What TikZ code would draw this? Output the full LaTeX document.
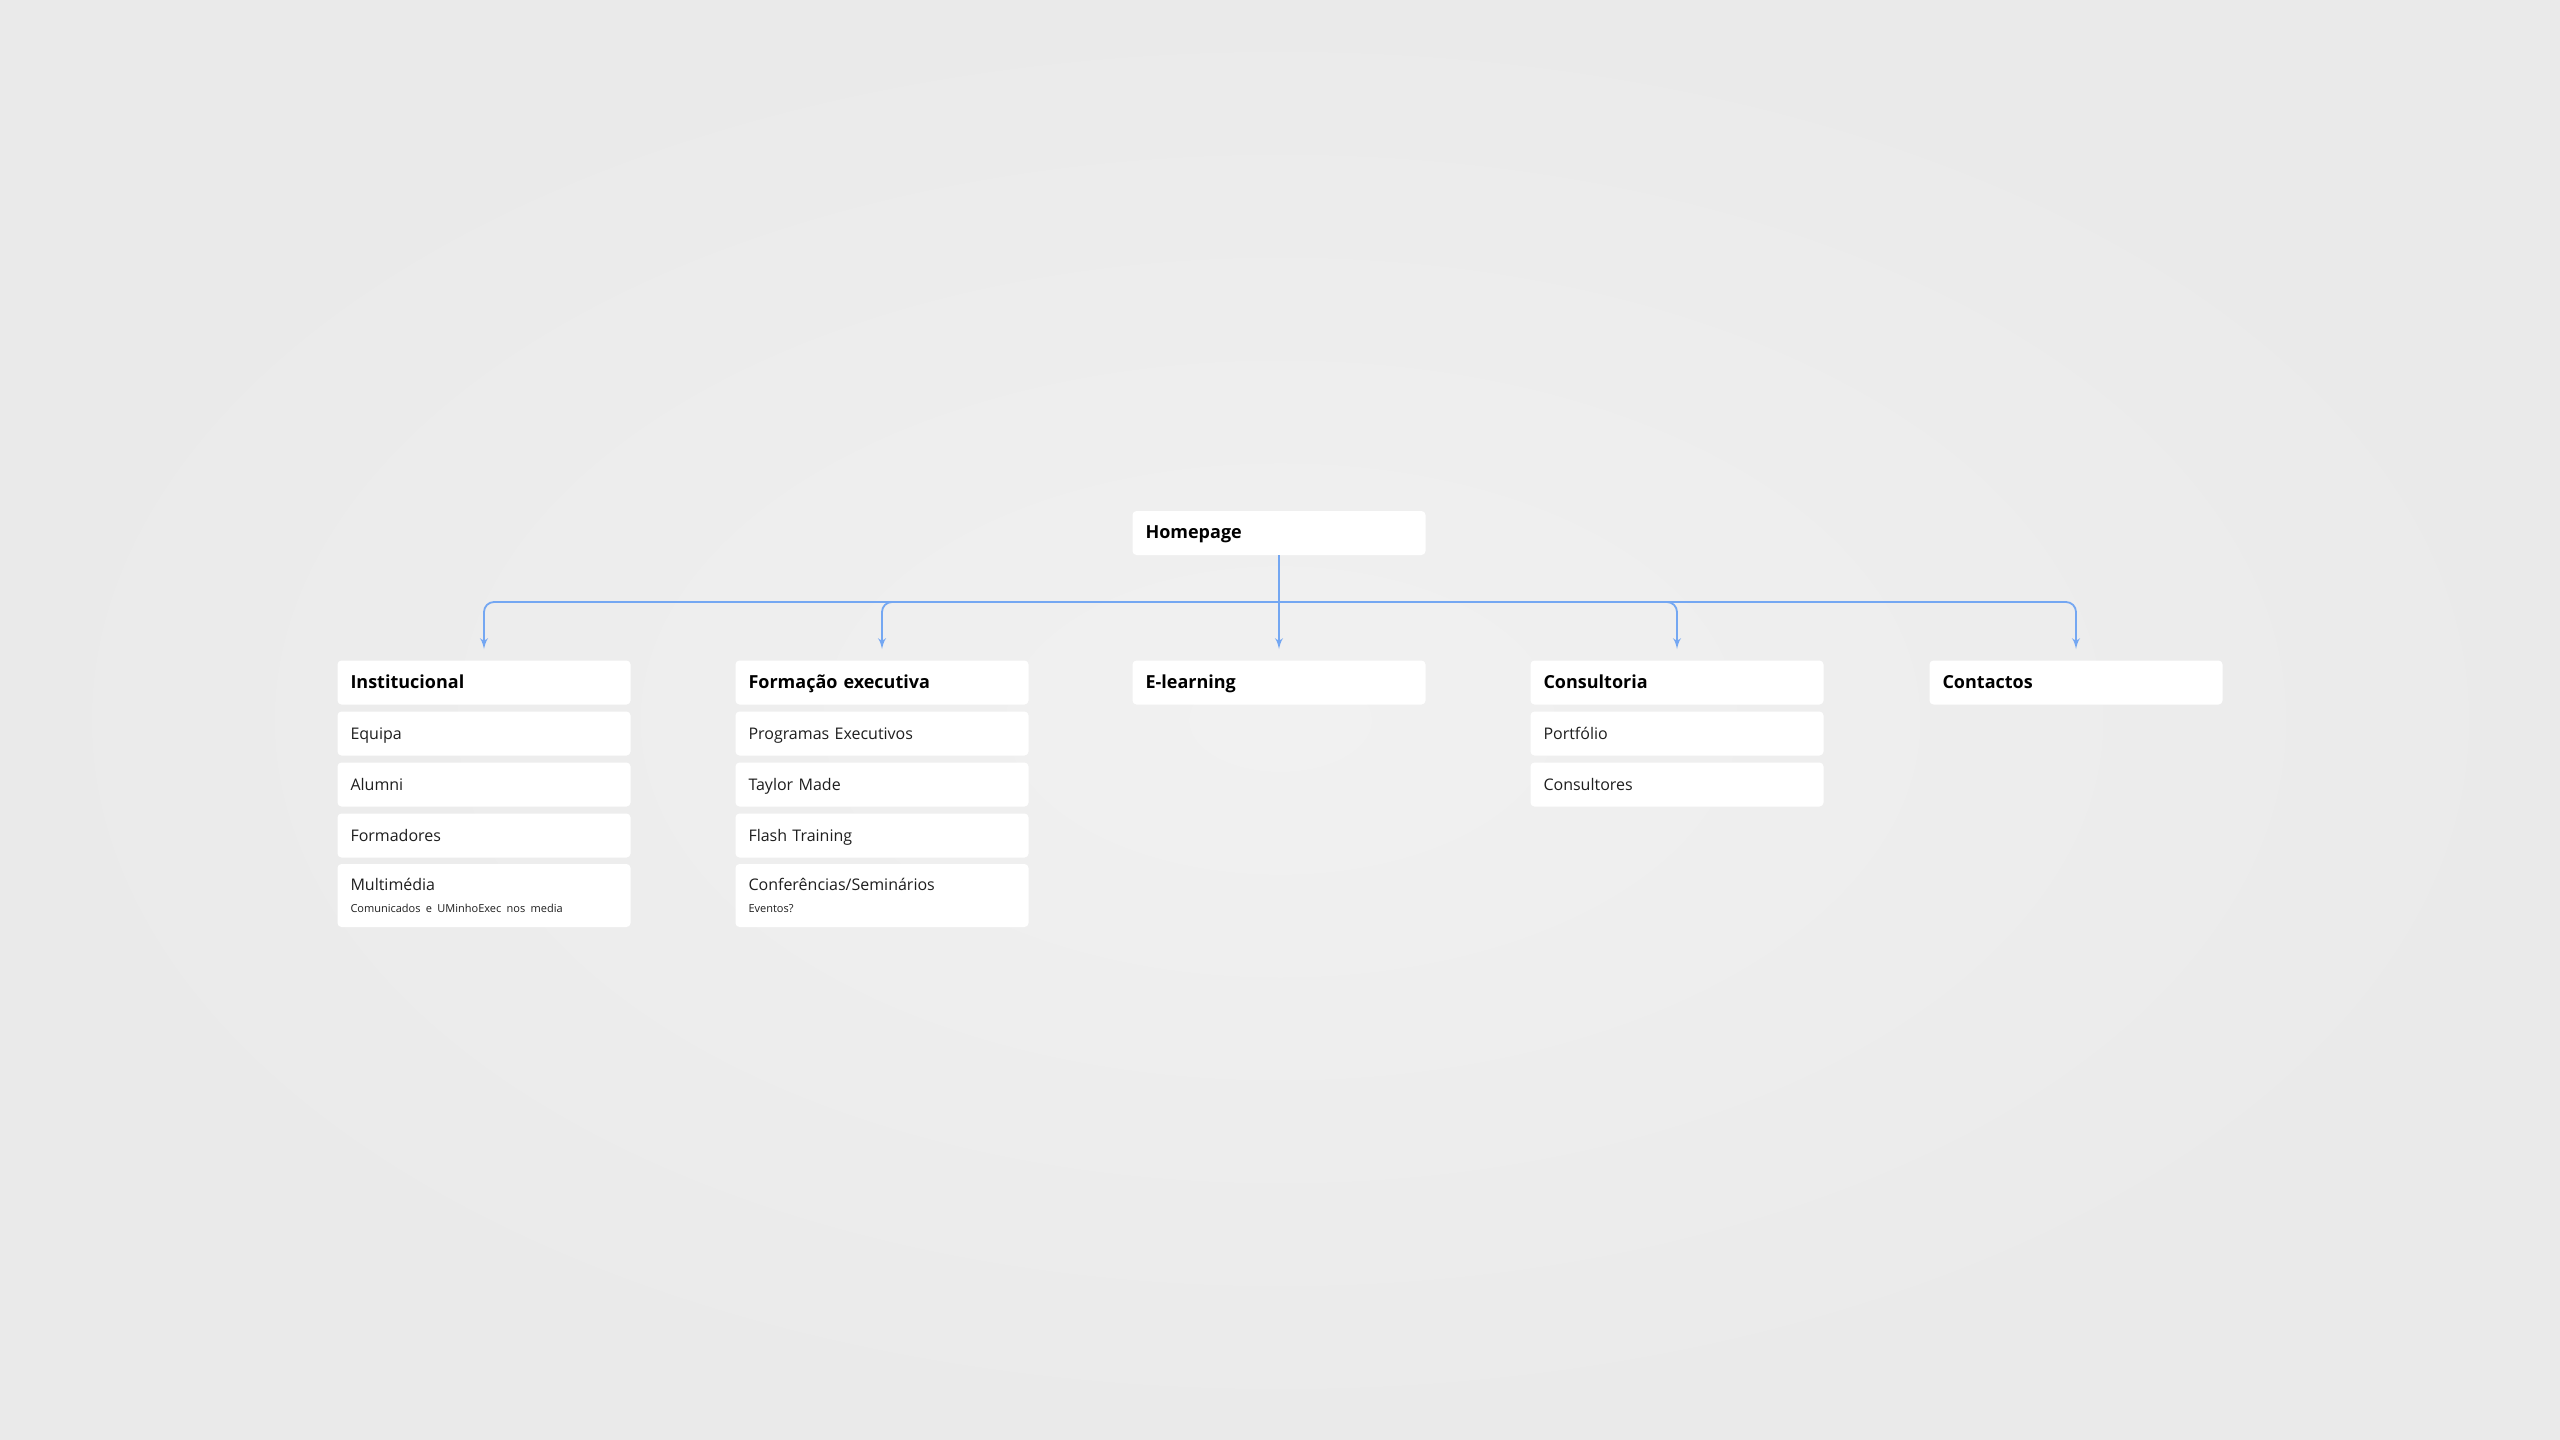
\documentclass[tikz,border=0pt]{standalone}
\usepackage{fontspec}
\setmainfont{Open Sans}
\usetikzlibrary{arrows}
\definecolor{linkblue}{HTML}{74A7F2}
\definecolor{bgin}{HTML}{F1F1F1}
\definecolor{bgout}{HTML}{EAEAEA}
\definecolor{itemgray}{HTML}{1E1E1E}
\newcommand{\subnote}[1]{\mbox{\fontsize{5.5}{7}\selectfont #1}}

\begin{document}
\begin{tikzpicture}[x=0.5pt,y=-0.5pt]
	\tikzset{box/.style = {fill=white, rounded corners=2pt, text width=133.5pt,
			inner xsep=6.5pt, inner ysep=0pt, minimum height=22pt, align=left,
			text height=7.3pt, text depth=1.6pt}}
	\tikzset{titlebox/.style = {box, font=\fontsize{9}{11}\selectfont\bfseries}}
	\tikzset{itembox/.style = {box, text=itemgray, font=\fontsize{8}{10}\selectfont}}
	\tikzset{twoline/.style = {minimum height=31.5pt, text height={}, text depth={}}}
	\tikzset{edge/.style = {->, > = latex', draw=linkblue, line width=0.9pt, shorten >=5.5pt}}
    % background
    \shade[inner color=bgin, outer color=bgout] (0,0) rectangle (2560,1440);
    \useasboundingbox (0,0) rectangle (2560,1440);
    % vertices
    \node[titlebox] (home) at (1279,533) {Homepage};
    \node[titlebox] (inst) at (484,682.5) {Institucional};
    \node[titlebox] (form) at (882,682.5) {Formação executiva};
    \node[titlebox] (elearn) at (1279,682.5) {E-learning};
    \node[titlebox] (cons) at (1677,682.5) {Consultoria};
    \node[titlebox] (cont) at (2076,682.5) {Contactos};
    % Institucional
    \node[itembox] (equipa) at (484,733.5) {Equipa};
    \node[itembox] (alumni) at (484,784.5) {Alumni};
    \node[itembox] (formad) at (484,835.5) {Formadores};
    \node[itembox, twoline] (multi) at (484,895.5)
        {Multimédia\\[1pt]\subnote{Comunicados e UMinhoExec nos media}};
    % Formacao executiva
    \node[itembox] (progexec) at (882,733.5) {Programas Executivos};
    \node[itembox] (taylor) at (882,784.5) {Taylor Made};
    \node[itembox] (flash) at (882,835.5) {Flash Training};
    \node[itembox, twoline] (confer) at (882,895.5)
        {Conferências/Seminários\\[1pt]\subnote{Eventos?}};
    % Consultoria
    \node[itembox] (portf) at (1677,733.5) {Portfólio};
    \node[itembox] (consult) at (1677,784.5) {Consultores};
    % edges
    \coordinate (hub) at (home.south |- 0,602);
    \draw[edge] (home) -- (elearn);
    \draw[edge, rounded corners=5pt] (hub) -| (inst);
    \draw[edge, rounded corners=5pt] (hub) -| (form);
    \draw[edge, rounded corners=5pt] (hub) -| (cons);
    \draw[edge, rounded corners=5pt] (hub) -| (cont);
\end{tikzpicture}
\end{document}
